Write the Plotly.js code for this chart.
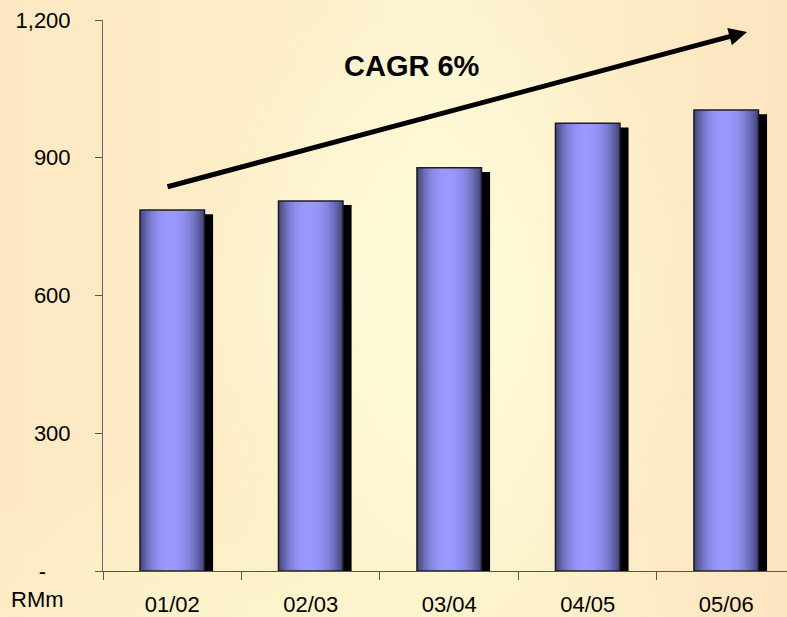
<!DOCTYPE html>
<html>
<head>
<meta charset="utf-8">
<script src="https://cdn.plot.ly/plotly-3.0.1.min.js"></script>
<style>
  html, body { margin: 0; padding: 0; }
  body {
    width: 787px; height: 617px; overflow: hidden;
    background:
      radial-gradient(ellipse 260px 330px at 440px 300px, rgba(254,252,218,1), rgba(254,252,218,0)),
      radial-gradient(ellipse 420px 160px at 300px 617px, rgba(253,244,204,1), rgba(253,244,204,0)),
      linear-gradient(to right, #fde8c3 0%, #fdeec8 35%, #fdf3cf 55%, #fde5c0 100%);
  }
  #chart { width: 787px; height: 617px; }
</style>
</head>
<body>
<div id="chart"></div>
<script>
// ---- data ----
const categories = ['01/02', '02/03', '03/04', '04/05', '05/06'];
const revenue = [786, 806, 878, 975, 1004];
const yTickVals = [0, 300, 600, 900, 1200];
const yTickText = ['-\u00a0\u00a0\u00a0\u00a0', '300', '600', '900', '1,200'];
const cagrLabel = 'CAGR 6%';
const unitLabel = 'RMm';

// ---- style constants ----
const FONT = '"Liberation Sans", Arial, sans-serif';
const BAR_W = 0.466;          // bar width in category units
const SHADOW_DX = 0.062;      // shadow shift to the right (category units)
const SHADOW_DROP = 9;        // shadow top lower than bar top (value units)
const PEAK = 0.46;            // position of the highlight across the bar
const N_LAYERS = 18;
const DARK = [70, 70, 124];
const LIGHT = [153, 153, 255];

const traces = [];

// shadow
traces.push({
  type: 'bar', x: categories, y: revenue.map(v => v - SHADOW_DROP),
  width: BAR_W, offset: -BAR_W / 2 + SHADOW_DX,
  marker: { color: '#000000', line: { width: 0 } },
  hoverinfo: 'skip', showlegend: false
});

// cylinder shading built from nested overlay bars
for (let k = 0; k < N_LAYERS; k++) {
  const t = k / N_LAYERS;
  const a = PEAK * t;
  const b = 1 - (1 - PEAK) * t;
  const f = 1 - Math.pow(1 - t, 2.4);
  const c = DARK.map((d, i) => Math.round(d + (LIGHT[i] - d) * f));
  traces.push({
    type: 'bar', x: categories, y: revenue,
    width: BAR_W * (b - a), offset: -BAR_W / 2 + BAR_W * a,
    marker: { color: `rgb(${c[0]},${c[1]},${c[2]})`, line: { width: 0 } },
    hoverinfo: 'skip', showlegend: false
  });
}

// outline
traces.push({
  type: 'bar', x: categories, y: revenue,
  width: BAR_W, offset: -BAR_W / 2,
  marker: { color: 'rgba(0,0,0,0)', line: { width: 1.5, color: '#1c1c2c' } },
  hoverinfo: 'skip', showlegend: false
});

const layout = {
  width: 787, height: 617,
  margin: { l: 103, r: 0, t: 20, b: 46 },
  paper_bgcolor: 'rgba(0,0,0,0)',
  plot_bgcolor: 'rgba(0,0,0,0)',
  barmode: 'overlay',
  showlegend: false,
  font: { family: FONT, size: 22, color: '#000000' },
  xaxis: {
    type: 'category',
    range: [-0.5, 4.439],
    tickson: 'boundaries',
    ticks: 'outside', ticklen: 8, tickwidth: 1, tickcolor: '#555555',
    showline: true, linecolor: '#555555', linewidth: 1,
    showgrid: false, zeroline: false,
    tickfont: { family: FONT, size: 22, color: '#000000' },
    ticklabelstandoff: 14,
    fixedrange: true
  },
  yaxis: {
    range: [0, 1200],
    tickmode: 'array', tickvals: yTickVals, ticktext: yTickText,
    ticks: 'outside', ticklen: 7, tickwidth: 1, tickcolor: '#555555',
    showline: true, linecolor: '#6a6a6a', linewidth: 1,
    showgrid: false, zeroline: false,
    tickfont: { family: FONT, size: 22, color: '#000000' },
    ticklabelstandoff: 20,
    fixedrange: true
  },
  annotations: [
    {
      xref: 'x', yref: 'y', axref: 'x', ayref: 'y',
      x: 4.150, y: 1174, ax: -0.045, ay: 836,
      text: '', showarrow: true,
      arrowhead: 2, arrowsize: 0.72, arrowwidth: 5, arrowcolor: '#000000',
      standoff: 0, startstandoff: 0
    },
    {
      xref: 'x', yref: 'y', x: 1.73, y: 1100,
      text: '<b>' + cagrLabel + '</b>', showarrow: false,
      font: { family: FONT, size: 29, color: '#000000' },
      xanchor: 'center', yanchor: 'middle'
    },
    {
      xref: 'paper', yref: 'paper', x: -0.138, y: -0.052,
      text: unitLabel, showarrow: false,
      font: { family: FONT, size: 22, color: '#000000' },
      xanchor: 'left', yanchor: 'middle'
    }
  ]
};

Plotly.newPlot('chart', traces, layout, { displayModeBar: false, staticPlot: true });
</script>
</body>
</html>
